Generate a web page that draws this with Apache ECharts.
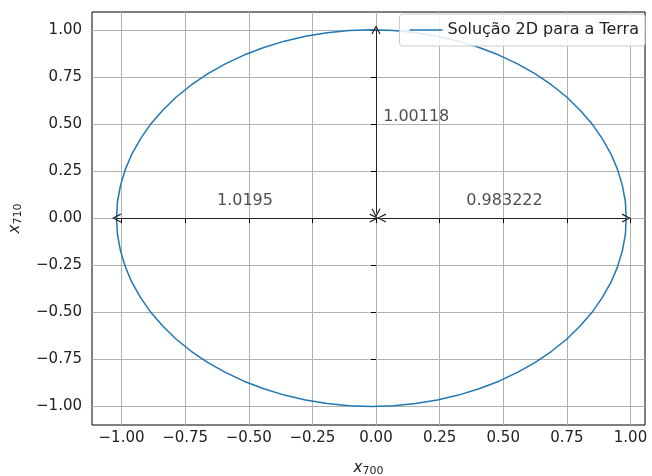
<!DOCTYPE html>
<html>
<head>
<meta charset="utf-8">
<script src="https://cdn.jsdelivr.net/npm/echarts@6/dist/echarts.min.js"></script>
<style>html,body{margin:0;padding:0;background:#fff;}#c{width:652px;height:476px;}</style>
</head>
<body>
<div id="c"></div>
<script>
// Orbit points (x, y), one every 5 degrees
const orbitX = [0.983, 0.980, 0.968, 0.949, 0.923, 0.889, 0.849, 0.802, 0.749, 0.690,
  0.626, 0.556, 0.483, 0.405, 0.324, 0.241, 0.156, 0.069, -0.018,
  -0.105, -0.192, -0.277, -0.360, -0.441, -0.519, -0.592, -0.662, -0.726,
  -0.785, -0.838, -0.885, -0.925, -0.959, -0.985, -1.004, -1.016, -1.0195,
  -1.016, -1.004, -0.985, -0.959, -0.925, -0.885, -0.838, -0.785, -0.726,
  -0.662, -0.592, -0.519, -0.441, -0.360, -0.277, -0.192, -0.105, -0.018,
  0.069, 0.156, 0.241, 0.324, 0.405, 0.483, 0.556, 0.626, 0.690,
  0.749, 0.802, 0.849, 0.889, 0.923, 0.949, 0.968, 0.980, 0.983];
const orbitY = [0, 0.087, 0.174, 0.259, 0.342, 0.423, 0.501, 0.574, 0.644, 0.708,
  0.767, 0.820, 0.867, 0.907, 0.941, 0.967, 0.986, 0.997, 1.001,
  0.997, 0.986, 0.967, 0.941, 0.907, 0.867, 0.820, 0.767, 0.708,
  0.644, 0.574, 0.501, 0.423, 0.342, 0.259, 0.174, 0.087, 0,
  -0.087, -0.174, -0.259, -0.342, -0.423, -0.501, -0.574, -0.644, -0.708,
  -0.767, -0.820, -0.867, -0.907, -0.941, -0.967, -0.986, -0.997, -1.001,
  -0.997, -0.986, -0.967, -0.941, -0.907, -0.867, -0.820, -0.767, -0.708,
  -0.644, -0.574, -0.501, -0.423, -0.342, -0.259, -0.174, -0.087, 0];
const tickValues = [-1.0, -0.75, -0.5, -0.25, 0, 0.25, 0.5, 0.75, 1.0];
const arrows = [
  {from: [-1.0195, 0], to: [-0.008, 0]},
  {from: [0.022, 0], to: [0.983222, 0]},
  {from: [0, 0.027], to: [0, 1.00118]}
];
const annotTexts = ['1.0195', '0.983222', '1.00118'];
const annotPos = [[-0.515, 0.09], [0.505, 0.09], [0.028, 0.537]];
const seriesName = 'Solução 2D para a Terra';

const fmt = v => v.toFixed(2).replace('-', '\u2212');
const font = 'DejaVu Sans';
const chevron = 'path://M0,0 L5,9 L3.8,9.6 L0,2.6 L-3.8,9.6 L-5,9 Z';

const chart = echarts.init(document.getElementById('c'), null, {renderer: 'canvas'});
chart.setOption({
  animation: false,
  backgroundColor: '#fff',
  textStyle: {fontFamily: font},
  grid: {left: 92, right: 7, top: 12, bottom: 51, show: true, borderColor: '#000', borderWidth: 1, backgroundColor: 'transparent', containLabel: false, outerBoundsMode: 'none'},
  legend: {
    right: 7, top: 14, orient: 'vertical',
    data: [seriesName],
    icon: 'path://M0,0 L30,0 L30,1.5 L0,1.5 Z',
    itemWidth: 33, itemHeight: 2, itemGap: 4,
    textStyle: {fontFamily: font, fontSize: 16, color: '#222'},
    borderColor: '#ccc', borderWidth: 1, borderRadius: 3,
    backgroundColor: 'rgba(255,255,255,0.85)',
    padding: [8, 6, 8, 10]
  },
  xAxis: {
    type: 'value', min: -1.116, max: 1.057,
    name: '{i|x}{s|700}', nameLocation: 'middle', nameGap: 34,
    nameTextStyle: {rich: {i: {fontStyle: 'italic', fontSize: 15, fontFamily: font, color: '#222'}, s: {fontSize: 11, fontFamily: font, color: '#222', padding: [7, 0, 0, 0]}}},
    axisLine: {show: false},
    axisTick: {show: true, length: 5, inside: false, lineStyle: {color: '#000'}, customValues: tickValues},
    axisLabel: {customValues: tickValues, formatter: fmt, fontSize: 15, color: '#222', margin: 6, fontFamily: font},
    splitLine: {show: true, lineStyle: {color: '#b0b0b0', width: 1}}
  },
  yAxis: {
    type: 'value', min: -1.10, max: 1.096,
    name: '{i|x}{s|710}', nameLocation: 'middle', nameGap: 68, nameRotate: 90,
    nameTextStyle: {rich: {i: {fontStyle: 'italic', fontSize: 15, fontFamily: font, color: '#222'}, s: {fontSize: 11, fontFamily: font, color: '#222', padding: [7, 0, 0, 0]}}},
    axisLine: {show: false},
    axisTick: {show: true, length: 5, inside: false, lineStyle: {color: '#000'}, customValues: tickValues},
    axisLabel: {customValues: tickValues, formatter: fmt, fontSize: 15, color: '#222', margin: 10, fontFamily: font},
    splitLine: {show: true, lineStyle: {color: '#b0b0b0', width: 1}}
  },
  series: [
    {
      name: seriesName, type: 'line', smooth: false, showSymbol: false, symbol: 'none',
      data: orbitX.map((x, i) => [x, orbitY[i]]),
      lineStyle: {color: '#1f77b4', width: 1.5}, itemStyle: {color: '#1f77b4'},
      markLine: {
        silent: true, symbol: [chevron, chevron], symbolSize: [9, 9], precision: 6,
        label: {show: false},
        lineStyle: {color: '#222', width: 1, type: 'solid'},
        data: arrows.map(a => [{coord: a.from}, {coord: a.to}])
      }
    },
    {
      name: 'annot', type: 'scatter', symbolSize: 0, silent: true,
      data: annotPos.map((p, i) => ({value: p, name: annotTexts[i], label: i === 2 ? {align: 'left'} : {}})),
      label: {show: true, position: 'inside', formatter: p => p.name, fontSize: 16, color: '#222', fontFamily: font},
      z: 5
    }
  ]
});
</script>
</body>
</html>
